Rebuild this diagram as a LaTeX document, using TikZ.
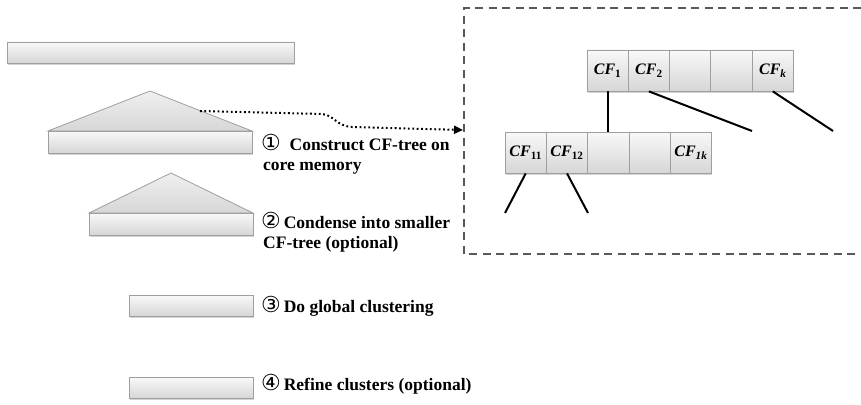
\documentclass[tikz,border=0pt]{standalone}
\usepackage{fontspec}
\setmainfont{Liberation Serif}
\newfontfamily\dejavu{DejaVu Sans}
\usetikzlibrary{shadows,arrows.meta}
\tikzset{
  bar/.style={draw=gray!75, line width=0.8pt, inner sep=0pt, top color=gray!5, bottom color=gray!32,
    drop shadow={shadow xshift=0.6pt, shadow yshift=-1.6pt, opacity=0.35}},
  tri/.style={draw=gray!75, line width=0.8pt, top color=gray!12, bottom color=gray!32},
  cell/.style={bar, minimum width=41.3pt, minimum height=41pt, font=\fontsize{16}{16}\selectfont\bfseries\itshape},
  lbl/.style={anchor=base west, inner sep=0pt, font=\fontsize{17.5}{20}\selectfont\bfseries},
  branch/.style={line width=2pt, black},
}
\newcommand{\cnum}[1]{{\dejavu\mdseries\fontsize{22}{20}\selectfont\raisebox{-0.5pt}{#1}}}
\begin{document}
\begin{tikzpicture}[x=1pt,y=-1pt]
\useasboundingbox (0,0) rectangle (861,404);
% dashed box (right side off canvas)
\draw[gray!70!black, line width=1.6pt, dash pattern=on 8pt off 5.5pt] (861,8) -- (464,8) -- (464,254) -- (861,254);
% top bar
\node[bar, minimum width=287pt, minimum height=21pt] (b0) at (150.5,52.5) {};
% triangle 1 + bar 1
\draw[tri] (48,131) -- (150,91) -- (252,131) -- cycle;
\node[bar, minimum width=204pt, minimum height=22pt] (b1) at (150,142) {};
% triangle 2 + bar 2
\draw[tri] (89,213) -- (171,173) -- (253,213) -- cycle;
\node[bar, minimum width=164pt, minimum height=22pt] (b2) at (171,224) {};
% bars 3, 4
\node[bar, minimum width=124pt, minimum height=21pt] (b3) at (191,305.5) {};
\node[bar, minimum width=124pt, minimum height=21pt] (b4) at (191,387.5) {};
% labels
\node[lbl] (l1) at (261,150) {\cnum{①}\ \ Construct CF-tree on};
\node[lbl] (l1b) at (263,170) {core memory};
\node[lbl] (l2) at (261,228) {\cnum{②}\,Condense into smaller};
\node[lbl] (l2b) at (263,248) {CF-tree (optional)};
\node[lbl] (l3) at (261,312) {\cnum{③}\,Do global clustering};
\node[lbl] (l4) at (261,390) {\cnum{④}\,Refine clusters (optional)};
% top CF row
\node[cell] (t1) at (607.6,70.5) {CF\textsubscript{\upshape 1}};
\node[cell] (t2) at (648.9,70.5) {CF\textsubscript{\upshape 2}};
\node[cell] (t3) at (690.2,70.5) {};
\node[cell] (t4) at (731.5,70.5) {};
\node[cell] (t5) at (772.8,70.5) {CF\textsubscript{k}};
% bottom CF row
\node[cell] (s1) at (525.7,152.5) {CF\textsubscript{\upshape 11}};
\node[cell] (s2) at (567.0,152.5) {CF\textsubscript{\upshape 12}};
\node[cell] (s3) at (608.3,152.5) {};
\node[cell] (s4) at (649.6,152.5) {};
\node[cell] (s5) at (690.9,152.5) {CF\textsubscript{1k}};
% branch ends
\coordinate (e2) at (752,131);
\coordinate (ek) at (833,131);
\coordinate (e11) at (505,213);
\coordinate (e12) at (588,213);
\draw[branch] (t1.south) -- (t1.south |- s3.north);
\draw[branch] (t2.south) -- (e2);
\draw[branch] (t5.south) -- (ek);
\draw[branch] (s1.south) -- (e11);
\draw[branch] (s2.south) -- (e12);
% dotted arrow
\coordinate (a0) at (200,111);
\coordinate (a1) at (463,130);
\draw[line width=2pt, dash pattern=on 1.8pt off 2.6pt, -{Triangle[length=9pt,width=8pt]}]
  (a0) -- (322,114) .. controls (334,115) and (336,126) .. (352,127) -- (a1);
\end{tikzpicture}
\end{document}
